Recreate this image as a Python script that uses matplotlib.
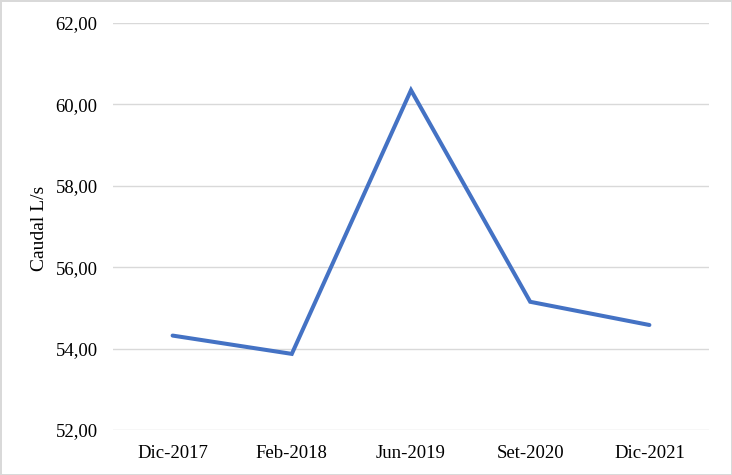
import matplotlib.pyplot as plt


periods = ["Dic-2017", "Feb-2018", "Jun-2019", "Set-2020", "Dic-2021"]
caudal = [54.32, 53.87, 60.35, 55.15, 54.58]
y_ticks = [52, 54, 56, 58, 60, 62]

LINE_COLOR = "#4472C4"
GRID_COLOR = "#d9d9d9"


def main():
    plt.rcParams["font.family"] = ["Liberation Serif", "DejaVu Serif"]

    fig = plt.figure(figsize=(7.32, 4.75), dpi=100)
    fig.patch.set_edgecolor(GRID_COLOR)
    fig.patch.set_linewidth(2)
    ax = fig.add_axes([113 / 732, 1 - 430 / 475, 596 / 732, 407 / 475])

    x = list(range(len(periods)))
    ax.plot(x, caudal, color=LINE_COLOR, linewidth=2.9,
            solid_capstyle="round", solid_joinstyle="miter", zorder=3)

    ax.set_xlim(-0.5, len(periods) - 0.5)
    ax.set_ylim(52, 62)
    ax.set_yticks(y_ticks)
    ax.set_yticklabels([f"{v:.2f}".replace(".", ",") for v in y_ticks])
    ax.set_xticks(x)
    ax.set_xticklabels(periods)

    ax.grid(axis="y", color=GRID_COLOR, linewidth=1.0)
    ax.set_axisbelow(True)
    for side in ("top", "right", "left", "bottom"):
        ax.spines[side].set_visible(False)
    ax.tick_params(axis="both", length=0, labelsize=13.5, colors="black")
    ax.tick_params(axis="y", pad=11)
    ax.tick_params(axis="x", pad=11)

    fig.text(39 / 732, 1 - 228 / 475, "Caudal L/s", rotation=90,
             ha="center", va="center", fontsize=14)

    fig.savefig("out.png", dpi=100)
    plt.close(fig)


if __name__ == "__main__":
    main()
